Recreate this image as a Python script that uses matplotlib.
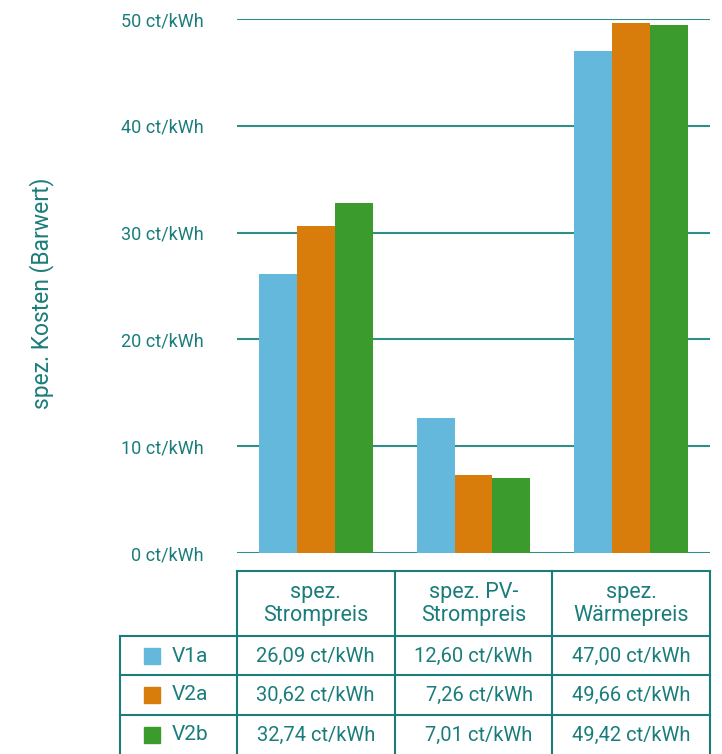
import matplotlib
matplotlib.use('Agg')
import matplotlib.pyplot as plt
import matplotlib.transforms as mtransforms
from matplotlib.patches import Rectangle
import numpy as np

# Kostenkategorien und Varianten
categories = ['spez.\nStrompreis', 'spez. PV-\nStrompreis', 'spez.\nWärmepreis']
variants = ['V1a', 'V2a', 'V2b']
v1a = [26.09, 12.60, 47.00]
v2a = [30.62, 7.26, 49.66]
v2b = [32.74, 7.01, 49.42]
yticks = [0, 10, 20, 30, 40, 50]

colors = ['#64b8db', '#d87c0b', '#3b9b2d']
teal = '#1b7d7b'
gridc = '#2f8d8a'

plt.rcParams['font.family'] = ['Roboto', 'DejaVu Sans']

W, H = 722, 754
fig = plt.figure(figsize=(W / 100, H / 100), dpi=100)

# Diagramm
ax = fig.add_axes([237 / W, 201 / H, 473 / W, 534 / H])
x = np.arange(len(categories))
width = 0.24
series = [v1a, v2a, v2b]
for i, vals in enumerate(series):
    ax.bar(x + (i - 1) * width, vals, width, color=colors[i], zorder=2)

ax.set_xlim(-0.5, 2.5)
ax.set_ylim(0, 50)
ax.set_yticks(yticks)
ax.set_yticklabels([f'{t} ct/kWh' for t in yticks])
ax.set_xticks([])
ax.tick_params(axis='y', length=0, pad=24, labelsize=13, labelcolor=teal)
for s in ax.spines.values():
    s.set_visible(False)
ax.yaxis.grid(True, color=gridc, linewidth=1.5)
ax.set_axisbelow(True)

fig.text(42 / W, 1 - 293 / H, 'spez. Kosten (Barwert)', rotation=90,
         ha='center', va='center', color=teal, fontsize=16.5)

# Datentabelle unter dem Diagramm
tax = fig.add_axes([0, 0, 1, 1], zorder=-1)
tax.set_xlim(0, W)
tax.set_ylim(H, 0)
tax.axis('off')
tr = mtransforms.blended_transform_factory(ax.transData, tax.transData)

lw = 1.5
top, head_bot = 571, 636
row_lines = [675, 715]
row_centers = [656, 695, 735]
bounds = [-0.5, 0.5, 1.5, 2.5]

tax.plot([-0.5, 2.5], [top, top], color=teal, lw=lw, transform=tr, clip_on=False)
for b in bounds:
    tax.plot([b, b], [top, H], color=teal, lw=lw, transform=tr, clip_on=False)
tax.plot([120, 237], [head_bot, head_bot], color=teal, lw=lw, clip_on=False)
tax.plot([-0.5, 2.5], [head_bot, head_bot], color=teal, lw=lw, transform=tr, clip_on=False)
tax.plot([120, 120], [head_bot, H], color=teal, lw=lw, clip_on=False)
for r in row_lines:
    tax.plot([120, 237], [r, r], color=teal, lw=lw, clip_on=False)
    tax.plot([-0.5, 2.5], [r, r], color=teal, lw=lw, transform=tr, clip_on=False)

for j, cat in enumerate(categories):
    tax.text(j, 604, cat, transform=tr, ha='center', va='center',
             color=teal, fontsize=15.5, linespacing=1.15)

for i, (name, vals) in enumerate(zip(variants, series)):
    yc = row_centers[i]
    tax.add_patch(Rectangle((144, yc - 8), 16, 16, color=colors[i]))
    tax.text(172, yc, name, ha='left', va='center', color=teal, fontsize=15)
    for j, v in enumerate(vals):
        label = f'{v:.2f}'.replace('.', ',') + ' ct/kWh'
        tax.text(j + 0.375, yc, label, transform=tr, ha='right', va='center',
                 color=teal, fontsize=14.5)

fig.savefig('out.png', dpi=100)
